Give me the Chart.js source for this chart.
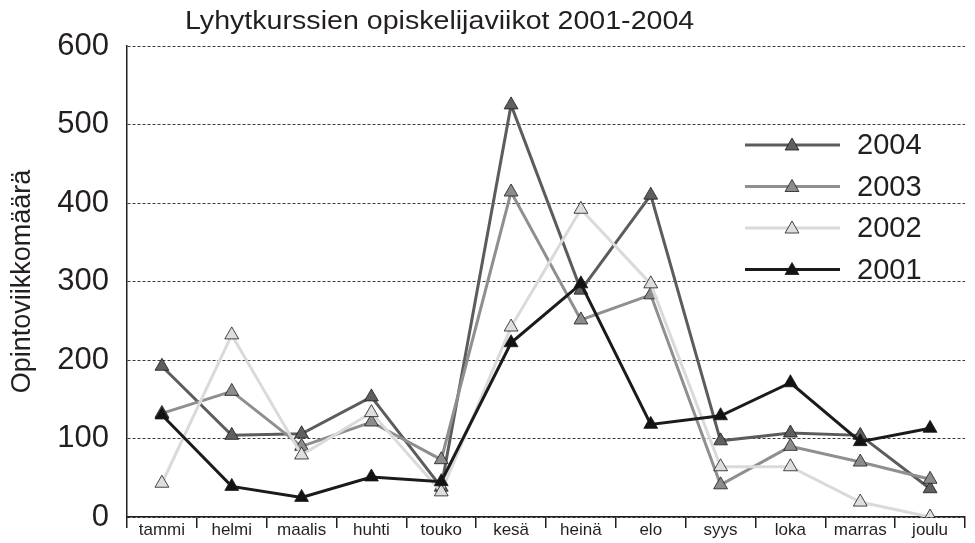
<!DOCTYPE html>
<html>
<head>
<meta charset="utf-8">
<script src="https://cdn.jsdelivr.net/npm/chart.js@4/dist/chart.umd.min.js"></script>
<style>
  html, body { margin: 0; padding: 0; background: #fff; }
  #wrap { position: relative; width: 975px; height: 543px; }
  #title { position: absolute; left: 185px; top: 5px; font-family: "Liberation Sans", Arial, sans-serif; font-size: 26px; color: #231f20; white-space: nowrap; transform: scaleX(1.1); transform-origin: left top; }
  canvas { position: absolute; left: 0; top: 0; }
</style>
</head>
<body>
<div id="wrap">
  <canvas id="c" width="975" height="543"></canvas>
  <div id="title">Lyhytkurssien opiskelijaviikot 2001-2004</div>
</div>
<script>
const categories = ["tammi", "helmi", "maalis", "huhti", "touko", "kesä", "heinä", "elo", "syys", "loka", "marras", "joulu"];
const seriesNames = ["2004", "2003", "2002", "2001"];
const values2004 = [192, 104, 106, 153, 38, 525, 289, 410, 97, 107, 104, 36];
const values2003 = [132, 160, 90, 121, 73, 414, 251, 283, 41, 90, 70, 48];
const values2002 = [43, 232, 79, 133, 32, 242, 392, 297, 64, 64, 19, 0];
const values2001 = [130, 39, 25, 51, 45, 222, 297, 118, 129, 171, 96, 113];
const yTicks = [0, 100, 200, 300, 400, 500, 600];
const yTitle = "Opintoviikkomäärä";

const styles = {
  "2004": { line: "#5c5c5c", fill: "#5f5f5f" },
  "2003": { line: "#8f8f8f", fill: "#8c8c8c" },
  "2002": { line: "#dadada", fill: "#dedede" },
  "2001": { line: "#1c1a1b", fill: "#141213" }
};
const valuesBySeries = { "2004": values2004, "2003": values2003, "2002": values2002, "2001": values2001 };

// draw order: 2001 on top (dataset 0 drawn last)
const drawOrder = ["2001", "2002", "2003", "2004"];
const datasets = drawOrder.map(name => ({
  label: name,
  data: valuesBySeries[name],
  borderColor: styles[name].line,
  backgroundColor: styles[name].fill,
  borderWidth: 3,
  pointStyle: "triangle",
  pointRadius: 8,
  pointBorderColor: "#1a1a1a",
  pointBorderWidth: 0.8,
  pointBackgroundColor: styles[name].fill,
  tension: 0,
  fill: false
}));

function triangle(ctx, x, y, r) {
  ctx.beginPath();
  let rad = 0;
  ctx.moveTo(x + Math.sin(rad) * r, y - Math.cos(rad) * r);
  rad += 2 * Math.PI / 3;
  ctx.lineTo(x + Math.sin(rad) * r, y - Math.cos(rad) * r);
  rad += 2 * Math.PI / 3;
  ctx.lineTo(x + Math.sin(rad) * r, y - Math.cos(rad) * r);
  ctx.closePath();
}

const legendPlugin = {
  id: "inlineLegend",
  afterDraw(chart) {
    const ctx = chart.ctx;
    ctx.save();
    seriesNames.forEach((name, i) => {
      const y = 145 + i * 41.5;
      ctx.strokeStyle = styles[name].line;
      ctx.lineWidth = 3;
      ctx.beginPath();
      ctx.moveTo(745, y);
      ctx.lineTo(840, y);
      ctx.stroke();
      triangle(ctx, 792, y + 1, 8);
      ctx.fillStyle = styles[name].fill;
      ctx.fill();
      ctx.strokeStyle = "#1a1a1a";
      ctx.lineWidth = 0.8;
      ctx.stroke();
      ctx.fillStyle = "#231f20";
      ctx.font = "29px 'Liberation Sans', Arial, sans-serif";
      ctx.textBaseline = "middle";
      ctx.textAlign = "left";
      ctx.fillText(name, 857, y + 1);
    });
    ctx.restore();
  }
};

new Chart(document.getElementById("c"), {
  type: "line",
  data: { labels: categories, datasets },
  options: {
    responsive: false,
    animation: false,
    devicePixelRatio: 1,
    layout: { padding: { top: 46, right: 10, left: 0, bottom: 0 } },
    plugins: { legend: { display: false }, tooltip: { enabled: false }, title: { display: false } },
    scales: {
      x: {
        offset: true,
        grid: { offset: true, drawOnChartArea: false, drawTicks: true, tickLength: 11, color: "#231f20", lineWidth: 1.5 },
        border: { display: true, color: "#231f20", width: 1.5 },
        ticks: { font: { family: "'Liberation Sans', Arial, sans-serif", size: 17 }, color: "#231f20", padding: -8, maxRotation: 0, autoSkip: false },
        afterFit(scale) { scale.height = 26; scale.paddingTop = 0; scale.paddingBottom = 0; }
      },
      y: {
        min: 0, max: 600,
        afterBuildTicks(scale) { scale.ticks = yTicks.map(v => ({ value: v })); },
        grid: { color: "#3a3a3a", lineWidth: 1, drawTicks: false },
        border: { display: true, color: "#231f20", width: 1.5, dash: [3, 2] },
        ticks: { font: { family: "'Liberation Sans', Arial, sans-serif", size: 31 }, color: "#231f20", padding: 18 },
        title: { display: true, text: yTitle, font: { family: "'Liberation Sans', Arial, sans-serif", size: 27 }, color: "#231f20", padding: { top: 6, bottom: 0 } },
        afterFit(scale) { scale.width = 127; scale.paddingTop = 0; scale.paddingBottom = 0; }
      }
    }
  },
  plugins: [legendPlugin]
});
</script>
</body>
</html>
